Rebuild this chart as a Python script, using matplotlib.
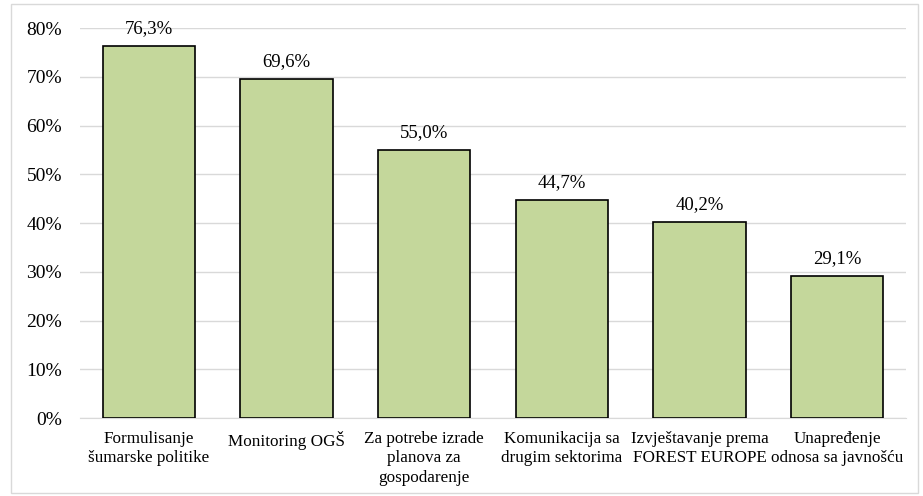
import matplotlib.pyplot as plt
from matplotlib.patches import Rectangle
from matplotlib.ticker import FuncFormatter

# Data
categories = [
    "Formulisanje\nšumarske politike",
    "Monitoring OGŠ",
    "Za potrebe izrade\nplanova za\ngospodarenje",
    "Komunikacija sa\ndrugim sektorima",
    "Izvještavanje prema\nFOREST EUROPE",
    "Unapređenje\nodnosa sa javnošću",
]
values = [76.3, 69.6, 55.0, 44.7, 40.2, 29.1]

plt.rcParams['font.family'] = ['Liberation Serif', 'DejaVu Serif']

fig = plt.figure(figsize=(9.23, 4.96), dpi=100)
ax = fig.add_axes([0.0867, 0.157, 0.8949, 0.7865])

# outer chart border
fig.patches.append(Rectangle((11 / 923, 3 / 496), 907 / 923, 489 / 496,
                             transform=fig.transFigure, fill=False,
                             edgecolor='#d9d9d9', linewidth=1))

x = range(len(categories))
bars = ax.bar(x, values, width=0.67, color='#C4D79B', edgecolor='black', linewidth=1.2, zorder=3)

for b, v in zip(bars, values):
    ax.text(b.get_x() + b.get_width() / 2, v + 1.8, f"{v:.1f}%".replace('.', ','),
            ha='center', va='bottom', fontsize=13.5)

ax.set_xlim(-0.5, len(categories) - 0.5)
ax.set_ylim(0, 80)
ax.set_yticks(range(0, 81, 10))
ax.yaxis.set_major_formatter(FuncFormatter(lambda v, p: f"{int(v)}%"))
ax.set_xticks(list(x))
ax.set_xticklabels(categories, fontsize=12.3, linespacing=1.3)

ax.grid(axis='y', color='#d9d9d9', linewidth=1, zorder=0)
for s in ['top', 'right', 'left']:
    ax.spines[s].set_visible(False)
ax.spines['bottom'].set_color('#d9d9d9')
ax.tick_params(axis='both', length=0)
ax.tick_params(axis='y', labelsize=14, pad=13)
ax.tick_params(axis='x', pad=9)

fig.savefig('out.png', dpi=100)
